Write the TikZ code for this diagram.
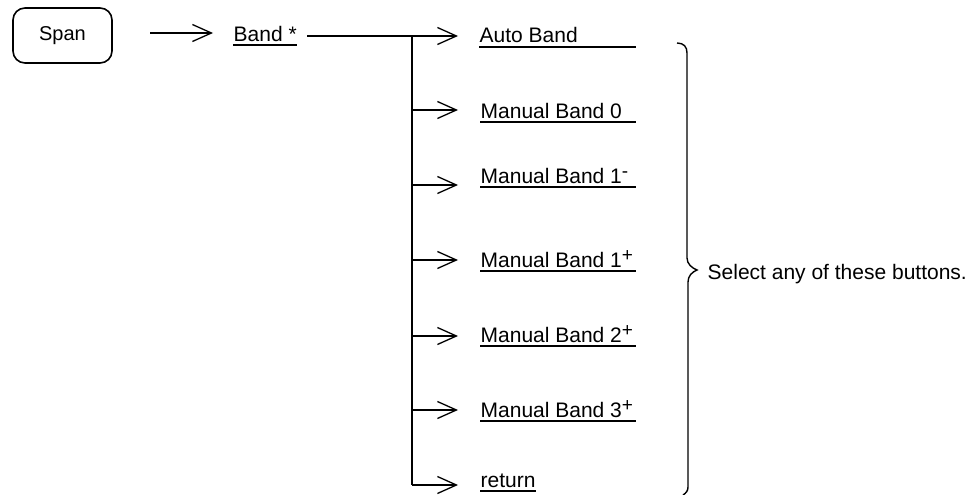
\documentclass[tikz,border=0pt]{standalone}
\usepackage{fontspec}
\setmainfont{Liberation Sans}
\usetikzlibrary{arrows.meta}
\newcommand{\supsign}[1]{\raisebox{6pt}{\fontsize{19}{19}\selectfont #1}}
\begin{document}
\begin{tikzpicture}[x=1pt,y=-1pt,
  line width=1.3pt,
  arr/.style={-{Straight Barb[length=19pt,width=17pt,line width=1.3pt]}},
  lbl/.style={anchor=base west,inner sep=0pt,font=\fontsize{21}{25}\selectfont},
  uline/.style={line width=1.2pt}]
\useasboundingbox (0,0) rectangle (974,495);

% Span key
\node[draw,rounded corners=12pt,line width=1.6pt,minimum width=99pt,minimum height=55pt,
      inner sep=0pt,font=\fontsize{20}{24}\selectfont] (span) at (62.5,35.5) {Span};

% first arrow
\coordinate (a0s) at (150,33);
\coordinate (a0t) at (213,33);
\draw[arr] (a0s) -- (a0t);

% Band *
\node[lbl] (band) at (233,42) {Band *};
\path (band.base west) ++(0,3) coordinate (ub);
\draw[uline] (ub) -- (ub -| band.base east);

% junctions and tips
\foreach \i/\y in {1/36,2/110,3/185,4/260,5/336,6/410,7/485}{
  \coordinate (j\i) at (412,\y);
  \coordinate (t\i) at (458,\y);
}
\coordinate (bs) at (307,36);
\draw (bs) -- (j1);
\draw (j1) -- (j7);
\foreach \i in {1,...,7}{\draw[arr] (j\i) -- (t\i);}

% row labels
\node[lbl] (r1) at (479,43)  {Auto Band};
\node[lbl] (r2) at (480,118) {Manual Band 0};
\node[lbl] (r3) at (480,183) {Manual Band 1\supsign{-}};
\node[lbl] (r4) at (480,267) {Manual Band 1\supsign{+}};
\node[lbl] (r5) at (480,342) {Manual Band 2\supsign{+}};
\node[lbl] (r6) at (480,417) {Manual Band 3\supsign{+}};
\node[lbl] (r7) at (480,487) {return};

\foreach \i in {1,...,6}{
  \path (r\i.base west) ++(0,4) coordinate (u\i);
  \draw[uline] (u\i) -- (u\i -| 636,0);
}
\path (r7.base west) ++(0,4) coordinate (u7);
\draw[uline] (u7) -- (u7 -| r7.base east);

% brace
\draw[line width=1.4pt] (677,43) .. controls (684,43) and (687,47) .. (687,53)
  -- (687,258) .. controls (687,264) and (692,268) .. (697,270)
  .. controls (692,272) and (688,276) .. (688,282)
  -- (688,487) .. controls (688,491) and (686,493) .. (683,495);
\node[lbl] (sel) at (707,279) {Select any of these buttons.};
\end{tikzpicture}
\end{document}
